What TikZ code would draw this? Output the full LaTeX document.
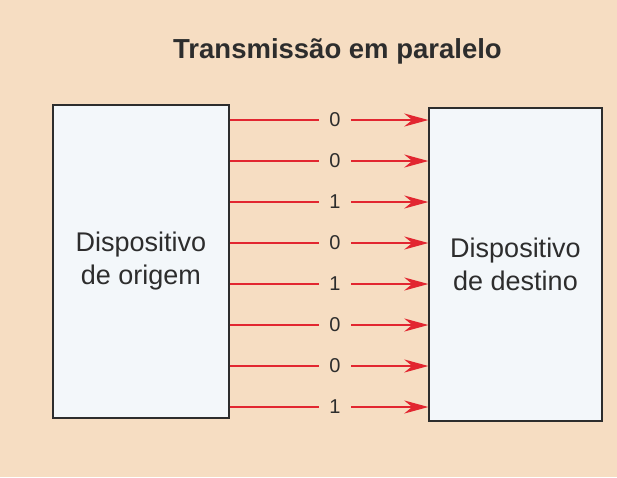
\documentclass[tikz,border=0pt]{standalone}
\usepackage{fontspec}
\setmainfont{Liberation Sans}
\usetikzlibrary{arrows.meta}
\definecolor{peach}{RGB}{246,221,194}
\definecolor{boxwhite}{RGB}{243,247,250}
\definecolor{wirered}{RGB}{226,38,48}
\definecolor{inkgrey}{RGB}{45,45,45}

\begin{document}
\begin{tikzpicture}[x=1pt,y=-1pt,
  device/.style={draw=inkgrey,line width=1.3pt,fill=boxwhite,align=center,text=inkgrey,font=\fontsize{27}{33}\selectfont,inner sep=0pt},
  bit/.style={text=inkgrey,font=\fontsize{20}{20}\selectfont,minimum width=32pt,inner sep=0pt},
  wire/.style={wirered,line width=2.6pt}]

\fill[peach] (0,0) rectangle (617,477);
\useasboundingbox (0,0) rectangle (617,477);
\node[anchor=base,text=inkgrey,font=\bfseries\fontsize{27.5}{30}\selectfont] (title) at (337.5,58) {Transmissão em paralelo};
\node[device,minimum width=176pt,minimum height=313pt] (origem) at (141,261.5) {Dispositivo\\de origem};
\node[device,minimum width=173pt,minimum height=313pt] (destino) at (515.5,264.5) {Dispositivo\\de destino};
\foreach \b [count=\i from 0] in {0,0,1,0,1,0,0,1} {
  \node[bit] (b\i) at (335,120+41*\i) {\b};
  \draw[wire] (origem.east |- b\i) -- (b\i.west);
  \draw[wire,-{Stealth[length=24pt,width=13pt]}] (b\i.east) -- (destino.west |- b\i);
}
\end{tikzpicture}
\end{document}
